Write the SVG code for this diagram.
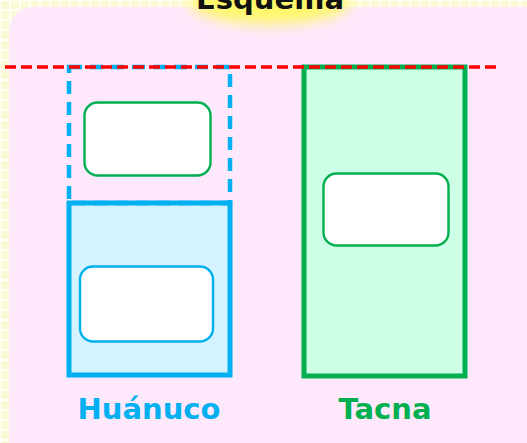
<svg xmlns="http://www.w3.org/2000/svg" width="527" height="443" viewBox="0 0 527 443">
<defs>
<pattern id="grid" width="10" height="10" patternUnits="userSpaceOnUse">
<rect width="10" height="10" fill="#fffff4"/>
<rect x="1" y="1" width="8" height="8" fill="#fcfad6"/>
</pattern>
<filter id="glow" x="-50%" y="-50%" width="200%" height="200%"><feGaussianBlur stdDeviation="7"/></filter>
<style>
.inner{fill:#ffffff;stroke-width:2.4}
.lbl{font-family:"DejaVu Sans",sans-serif;font-weight:bold;font-size:29px;text-anchor:middle}
</style>
</defs>
<rect width="527" height="443" fill="url(#grid)"/>
<rect x="9" y="7" width="545" height="460" rx="24" fill="#fde8fc"/>
<g id="title">
<ellipse cx="270" cy="2" rx="80" ry="22" fill="#fff86a" filter="url(#glow)"/>
<text x="270" y="9" class="lbl" fill="#111111">Esquema</text>
</g>
<g id="huanuco">
<rect x="69" y="203" width="161" height="172" fill="#d5f3ff" stroke="#00b0f0" stroke-width="5"/>
<rect x="69" y="67" width="161" height="136" fill="none" stroke="#00b0f0" stroke-width="4.5" stroke-dasharray="13,8"/>
<rect x="84.5" y="102.5" width="126" height="73" rx="13" class="inner" stroke="#00b050"/>
<rect x="80" y="266.5" width="133" height="75" rx="13" class="inner" stroke="#00b0f0"/>
<text x="149" y="419" class="lbl" fill="#00b0f0">Huánuco</text>
</g>
<g id="tacna">
<rect x="304" y="67" width="161" height="309" fill="#ccffe6" stroke="#00b050" stroke-width="5"/>
<rect x="323.5" y="173.5" width="125" height="72" rx="13" class="inner" stroke="#00b050"/>
<text x="385" y="419" class="lbl" fill="#00b050">Tacna</text>
</g>
<g id="connectors">
<line x1="5" y1="67" x2="497" y2="67" stroke="#ff0000" stroke-width="3.5" stroke-dasharray="11,5"/>
</g>
</svg>
